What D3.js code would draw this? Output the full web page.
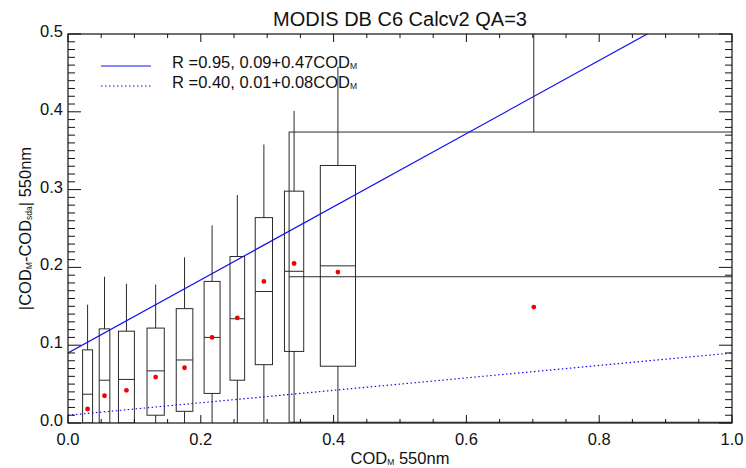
<!DOCTYPE html>
<html>
<head>
<meta charset="utf-8">
<script src="https://cdn.jsdelivr.net/npm/d3@7"></script>
<style>
  body { margin: 0; background: white; }
  text { font-family: "Liberation Sans", Arial, sans-serif; fill: #111; }
</style>
</head>
<body>
<svg id="chart" width="746" height="468"></svg>
<script>
// box edges along COD_M, and box statistics
const boxLeft   = [0.022, 0.047, 0.076, 0.119, 0.163, 0.205, 0.244, 0.282, 0.326, 0.380, 0.333];
const boxRight  = [0.037, 0.063, 0.100, 0.145, 0.188, 0.229, 0.266, 0.308, 0.355, 0.433, 1.070];
const whiskerLo = [0, 0, 0, 0, 0, 0, 0, 0, 0, 0, 0];
const q1        = [0.000, 0.000, 0.000, 0.010, 0.015, 0.038, 0.055, 0.075, 0.092, 0.073, 0.001];
const medians   = [0.037, 0.055, 0.056, 0.067, 0.081, 0.110, 0.134, 0.169, 0.195, 0.202, 0.188];
const q3        = [0.094, 0.121, 0.118, 0.122, 0.147, 0.182, 0.214, 0.264, 0.298, 0.331, 0.374];
const whiskerHi = [0.152, 0.188, 0.179, 0.178, 0.213, 0.254, 0.293, 0.358, 0.401, 0.458, 0.600];
const means     = [0.018, 0.035, 0.042, 0.059, 0.071, 0.110, 0.135, 0.182, 0.205, 0.194, 0.149];

// linear fits: intercept, slope, R
const fitIntercept = [0.09, 0.01];
const fitSlope     = [0.47, 0.08];
const fitR         = [0.95, 0.40];

const xTicks = [0, 0.2, 0.4, 0.6, 0.8, 1.0];
const yTicks = [0, 0.1, 0.2, 0.3, 0.4, 0.5];

const svg = d3.select("#chart");
const margin = { left: 68, right: 14, top: 34, bottom: 45 };
const width = +svg.attr("width");
const height = +svg.attr("height");

const x = d3.scaleLinear().domain([0, 1]).range([margin.left, width - margin.right]);
const y = d3.scaleLinear().domain([0, 0.5]).range([height - margin.bottom, margin.top]);

svg.append("clipPath").attr("id", "plotclip")
    .append("rect")
    .attr("x", x(0)).attr("y", y(0.5))
    .attr("width", x(1) - x(0)).attr("height", y(0) - y(0.5));

const plot = svg.append("g").attr("clip-path", "url(#plotclip)");
const stroke = "#2a2a2a";

const boxes = d3.range(boxLeft.length).map(i => ({
    l: boxLeft[i], r: boxRight[i], c: (boxLeft[i] + boxRight[i]) / 2,
    lo: whiskerLo[i], q1: q1[i], med: medians[i], q3: q3[i], hi: whiskerHi[i], mean: means[i]
}));

const g = plot.selectAll(".box").data(boxes).enter().append("g").attr("class", "box");

// whiskers
g.append("line")
    .attr("x1", d => x(d.c)).attr("x2", d => x(d.c))
    .attr("y1", d => y(d.q3)).attr("y2", d => y(d.hi))
    .attr("stroke", stroke).attr("stroke-width", 1);
g.append("line")
    .attr("x1", d => x(d.c)).attr("x2", d => x(d.c))
    .attr("y1", d => y(d.lo)).attr("y2", d => y(d.q1))
    .attr("stroke", stroke).attr("stroke-width", 1);

// boxes
g.append("rect")
    .attr("x", d => x(d.l)).attr("width", d => x(d.r) - x(d.l))
    .attr("y", d => y(d.q3)).attr("height", d => y(d.q1) - y(d.q3))
    .attr("fill", "none").attr("stroke", stroke).attr("stroke-width", 1);

// medians
g.append("line")
    .attr("x1", d => x(d.l)).attr("x2", d => x(d.r))
    .attr("y1", d => y(d.med)).attr("y2", d => y(d.med))
    .attr("stroke", stroke).attr("stroke-width", 1);

// fit lines
const fitLine = (a, b) => d3.line()([[x(0), y(a)], [x(1), y(a + b)]]);
plot.append("path").attr("d", fitLine(fitIntercept[0], fitSlope[0]))
    .attr("stroke", "#1010ee").attr("stroke-width", 1.2).attr("fill", "none");
plot.append("path").attr("d", fitLine(fitIntercept[1], fitSlope[1]))
    .attr("stroke", "#1010ee").attr("stroke-width", 1.2).attr("fill", "none")
    .attr("stroke-dasharray", "1.5,2.5");

// means
plot.selectAll(".mean").data(boxes).enter().append("circle")
    .attr("class", "mean")
    .attr("cx", d => x(d.c)).attr("cy", d => y(d.mean)).attr("r", 2.4)
    .attr("fill", "#f00000");

// axes: IDL style, ticks inward on all four sides
const axes = svg.append("g");
axes.append("rect")
    .attr("x", x(0)).attr("y", y(0.5))
    .attr("width", x(1) - x(0)).attr("height", y(0) - y(0.5))
    .attr("fill", "none").attr("stroke", "#111").attr("stroke-width", 1.2);

const xMinor = d3.range(0, 1.0001, 0.05);
const yMinor = d3.range(0, 0.5001, 0.01);
const isMajorX = v => Math.abs(v * 5 - Math.round(v * 5)) < 1e-6;
const isMajorY = v => Math.abs(v * 10 - Math.round(v * 10)) < 1e-6;

xMinor.forEach(v => {
    const len = isMajorX(v) ? 8 : 4;
    axes.append("line").attr("x1", x(v)).attr("x2", x(v))
        .attr("y1", y(0)).attr("y2", y(0) - len).attr("stroke", "#111");
    axes.append("line").attr("x1", x(v)).attr("x2", x(v))
        .attr("y1", y(0.5)).attr("y2", y(0.5) + len).attr("stroke", "#111");
});
yMinor.forEach(v => {
    const len = isMajorY(v) ? 13 : 7;
    axes.append("line").attr("x1", x(0)).attr("x2", x(0) + len)
        .attr("y1", y(v)).attr("y2", y(v)).attr("stroke", "#111");
    axes.append("line").attr("x1", x(1)).attr("x2", x(1) - len)
        .attr("y1", y(v)).attr("y2", y(v)).attr("stroke", "#111");
});

axes.selectAll(".xl").data(xTicks).enter().append("text")
    .attr("x", d => x(d)).attr("y", y(0) + 22)
    .attr("text-anchor", "middle").style("font-size", "16.5px")
    .text(d => d.toFixed(1));
axes.selectAll(".yl").data(yTicks).enter().append("text")
    .attr("x", x(0) - 5).attr("y", d => y(d) + 3)
    .attr("text-anchor", "end").style("font-size", "16.5px")
    .text(d => d.toFixed(1));

// title
svg.append("text").attr("x", (x(0) + x(1)) / 2).attr("y", 26)
    .attr("text-anchor", "middle").style("font-size", "20px")
    .text("MODIS DB C6 Calcv2 QA=3");

// x label
const xl = svg.append("text").attr("x", (x(0) + x(1)) / 2).attr("y", 464)
    .attr("text-anchor", "middle").style("font-size", "16.5px");
xl.append("tspan").text("COD");
xl.append("tspan").style("font-size", "8.5px").attr("dy", 1).text("M");
xl.append("tspan").attr("dy", -1).text(" 550nm");

// y label
const yl = svg.append("text")
    .attr("transform", `translate(31,${(y(0) + y(0.5)) / 2}) rotate(-90)`)
    .attr("text-anchor", "middle").style("font-size", "16.5px");
yl.append("tspan").text("|COD");
yl.append("tspan").style("font-size", "8.5px").attr("dy", 1).text("M");
yl.append("tspan").attr("dy", -1).text("-COD");
yl.append("tspan").style("font-size", "8.5px").attr("dy", 1).text("sda");
yl.append("tspan").attr("dy", -1).text("| 550nm");

// legend
const legend = svg.append("g");
fitR.forEach((r, i) => {
    const ly = 66 + i * 20;
    legend.append("line").attr("x1", 101).attr("x2", 151)
        .attr("y1", ly).attr("y2", ly)
        .attr("stroke", "#1010ee").attr("stroke-width", 1.2)
        .attr("stroke-dasharray", i === 1 ? "1.5,2.5" : null);
    const t = legend.append("text").attr("x", 172).attr("y", ly + 2)
        .style("font-size", "16.5px");
    t.append("tspan").text(`R =${r.toFixed(2)}, ${fitIntercept[i].toFixed(2)}+${fitSlope[i].toFixed(2)}COD`);
    t.append("tspan").style("font-size", "8.5px").attr("dy", 1).text("M");
});
</script>
</body>
</html>
